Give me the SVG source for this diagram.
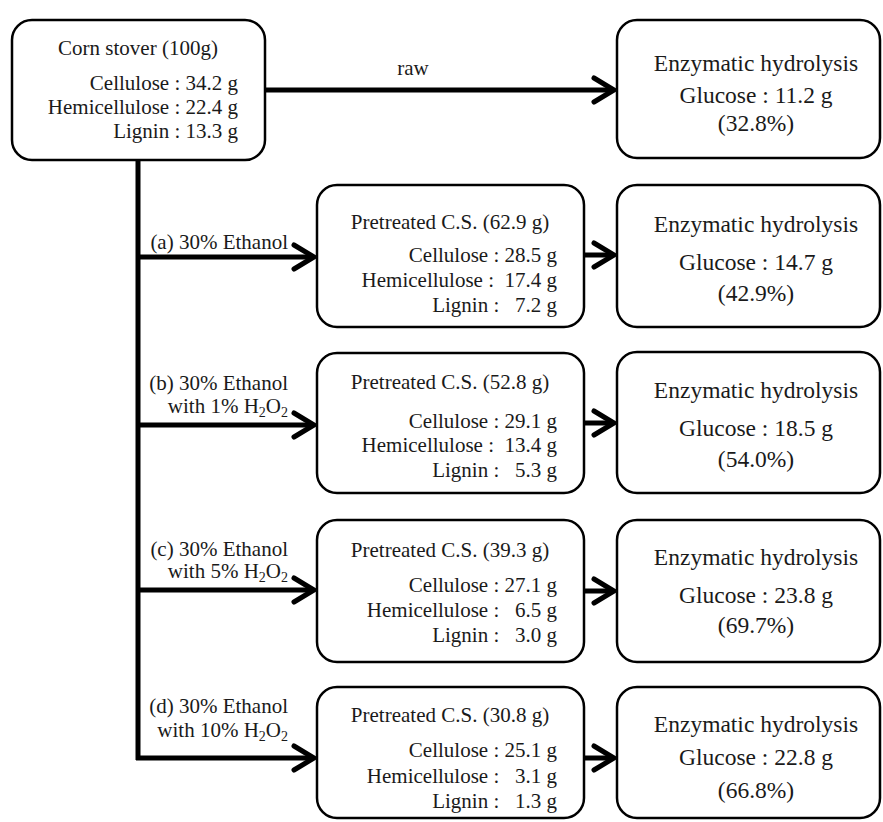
<svg xmlns="http://www.w3.org/2000/svg" width="883" height="822" viewBox="0 0 883 822">
<style>
text{font-family:"Liberation Serif","Times New Roman",serif;fill:#1a1a1a;}
.box{fill:#fff;stroke:#000;stroke-width:2.5;}
.t{font-size:21px;}
.e{font-size:23.5px;text-anchor:middle;}
.m{text-anchor:middle;}
.r{text-anchor:end;}
.ln{stroke:#000;stroke-width:5;fill:none;}
.sub{font-size:14px;}
</style>
<defs>
<marker id="ah" markerUnits="userSpaceOnUse" markerWidth="30" markerHeight="34" refX="24" refY="15" orient="auto" viewBox="0 0 30 30" overflow="visible">
<path d="M4,3 L24,15 L4,27" fill="none" stroke="#000" stroke-width="5" stroke-linecap="round" stroke-linejoin="miter"/>
</marker>
</defs>
<rect width="883" height="822" fill="#fff"/>
<g id="connectors">
<path class="ln" d="M138,160 V760"/>
<path class="ln" d="M265,90 H614" marker-end="url(#ah)"/>
<path class="ln" d="M136,257 H314" marker-end="url(#ah)"/>
<path class="ln" d="M136,425 H314" marker-end="url(#ah)"/>
<path class="ln" d="M136,590 H314" marker-end="url(#ah)"/>
<path class="ln" d="M136,758 H314" marker-end="url(#ah)"/>
<path class="ln" d="M584,255 H614" marker-end="url(#ah)"/>
<path class="ln" d="M584,423 H614" marker-end="url(#ah)"/>
<path class="ln" d="M584,591 H614" marker-end="url(#ah)"/>
<path class="ln" d="M584,758 H614" marker-end="url(#ah)"/>
<text class="t m" x="413" y="75">raw</text>
<text class="t r" x="288" y="249">(a) 30% Ethanol</text>
<text class="t r" x="288" y="390">(b) 30% Ethanol</text>
<text class="t r" x="288" y="413">with 1% H<tspan class="sub" dy="4">2</tspan><tspan dy="-4">O</tspan><tspan class="sub" dy="4">2</tspan></text>
<text class="t r" x="288" y="556">(c) 30% Ethanol</text>
<text class="t r" x="288" y="578">with 5% H<tspan class="sub" dy="4">2</tspan><tspan dy="-4">O</tspan><tspan class="sub" dy="4">2</tspan></text>
<text class="t r" x="288" y="713">(d) 30% Ethanol</text>
<text class="t r" x="288" y="737">with 10% H<tspan class="sub" dy="4">2</tspan><tspan dy="-4">O</tspan><tspan class="sub" dy="4">2</tspan></text>
</g>
<g id="corn">
<rect class="box" x="12" y="20" width="253" height="140" rx="20"/>
<text class="t m" x="138" y="55">Corn stover (100g)</text>
<text class="t r" x="238" y="90">Cellulose : 34.2 g</text>
<text class="t r" x="238" y="114">Hemicellulose : 22.4 g</text>
<text class="t r" x="238" y="138">Lignin : 13.3 g</text>
</g>
<g id="enz0">
<rect class="box" x="617" y="20" width="263" height="138" rx="20"/>
<text class="e" x="756" y="71">Enzymatic hydrolysis</text>
<text class="e" x="756" y="103">Glucose : 11.2 g</text>
<text class="e" x="756" y="131">(32.8%)</text>
</g>
<g id="preA">
<rect class="box" x="317" y="185" width="267" height="142" rx="20"/>
<text class="t m" x="450" y="229">Pretreated C.S. (62.9 g)</text>
<text class="t r" x="557" y="262" xml:space="preserve">Cellulose : 28.5 g</text>
<text class="t r" x="557" y="287" xml:space="preserve">Hemicellulose :  17.4 g</text>
<text class="t r" x="557" y="312" xml:space="preserve">Lignin :   7.2 g</text>
</g>
<g id="enzA">
<rect class="box" x="617" y="185" width="263" height="142" rx="20"/>
<text class="e" x="756" y="232">Enzymatic hydrolysis</text>
<text class="e" x="756" y="270">Glucose : 14.7 g</text>
<text class="e" x="756" y="301">(42.9%)</text>
</g>
<g id="preB">
<rect class="box" x="317" y="353" width="267" height="140" rx="20"/>
<text class="t m" x="450" y="389">Pretreated C.S. (52.8 g)</text>
<text class="t r" x="557" y="428" xml:space="preserve">Cellulose : 29.1 g</text>
<text class="t r" x="557" y="452" xml:space="preserve">Hemicellulose :  13.4 g</text>
<text class="t r" x="557" y="477" xml:space="preserve">Lignin :   5.3 g</text>
</g>
<g id="enzB">
<rect class="box" x="617" y="352" width="263" height="141" rx="20"/>
<text class="e" x="756" y="398">Enzymatic hydrolysis</text>
<text class="e" x="756" y="436">Glucose : 18.5 g</text>
<text class="e" x="756" y="467">(54.0%)</text>
</g>
<g id="preC">
<rect class="box" x="317" y="520" width="267" height="142" rx="20"/>
<text class="t m" x="450" y="557">Pretreated C.S. (39.3 g)</text>
<text class="t r" x="557" y="592" xml:space="preserve">Cellulose : 27.1 g</text>
<text class="t r" x="557" y="617" xml:space="preserve">Hemicellulose :   6.5 g</text>
<text class="t r" x="557" y="642" xml:space="preserve">Lignin :   3.0 g</text>
</g>
<g id="enzC">
<rect class="box" x="617" y="520" width="263" height="142" rx="20"/>
<text class="e" x="756" y="565">Enzymatic hydrolysis</text>
<text class="e" x="756" y="603">Glucose : 23.8 g</text>
<text class="e" x="756" y="633">(69.7%)</text>
</g>
<g id="preD">
<rect class="box" x="317" y="687" width="267" height="131" rx="20"/>
<text class="t m" x="450" y="722">Pretreated C.S. (30.8 g)</text>
<text class="t r" x="557" y="757" xml:space="preserve">Cellulose : 25.1 g</text>
<text class="t r" x="557" y="783" xml:space="preserve">Hemicellulose :   3.1 g</text>
<text class="t r" x="557" y="808" xml:space="preserve">Lignin :   1.3 g</text>
</g>
<g id="enzD">
<rect class="box" x="617" y="687" width="263" height="131" rx="20"/>
<text class="e" x="756" y="732">Enzymatic hydrolysis</text>
<text class="e" x="756" y="765">Glucose : 22.8 g</text>
<text class="e" x="756" y="798">(66.8%)</text>
</g>
</svg>
